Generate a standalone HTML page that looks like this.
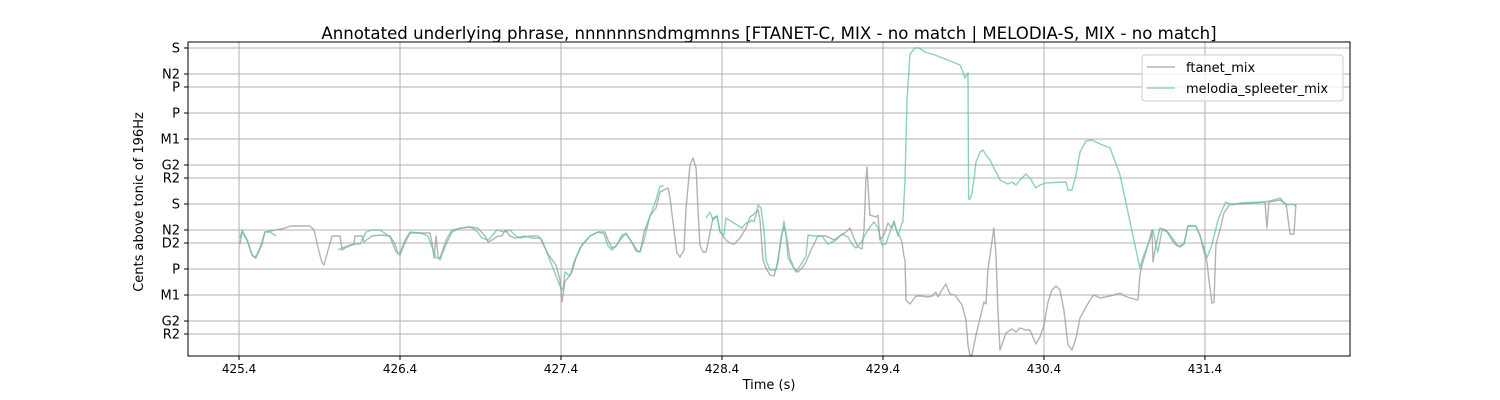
<!DOCTYPE html>
<html><head><meta charset="utf-8">
<style>
html,body{margin:0;padding:0;background:#fff;}
svg{display:block;font-family:"DejaVu Sans","Liberation Sans",sans-serif;}
</style></head>
<body>
<svg id="chart" width="1500" height="400" viewBox="0 0 1500 400" xmlns="http://www.w3.org/2000/svg">
<rect x="0" y="0" width="1500" height="400" fill="#fff"/>
<text x="769" y="39" text-anchor="middle" font-size="16.6" fill="#000">Annotated underlying phrase, nnnnnnsndmgmnns [FTANET-C, MIX - no match | MELODIA-S, MIX - no match]</text>
<g id="grid"></g>
<g id="series"></g>
<rect x="188" y="42" width="1162" height="314" fill="none" stroke="#000" stroke-width="1"/>
<g id="ticks"></g>
<text x="769" y="389" text-anchor="middle" font-size="13">Time (s)</text>
<text transform="translate(143,202) rotate(-90)" text-anchor="middle" font-size="13">Cents above tonic of 196Hz</text>
<g>
<rect x="1142" y="55" width="201" height="46" rx="3" fill="#fff" fill-opacity="0.8" stroke="#ccc"/>
<line x1="1147" y1="67" x2="1175" y2="67" stroke="#999" stroke-opacity="0.7" stroke-width="1.5"/>
<text x="1186" y="72" font-size="13">ftanet_mix</text>
<line x1="1147" y1="88" x2="1175" y2="88" stroke="#66c2a5" stroke-opacity="0.7" stroke-width="1.5"/>
<text x="1186" y="93" font-size="13">melodia_spleeter_mix</text>
</g>
</svg>
<script>
const xTicks = [425.4, 426.4, 427.4, 428.4, 429.4, 430.4, 431.4];
const yTickValues = [1200, 1000, 900, 700, 500, 300, 200, 0, -200, -300, -500, -700, -900, -1000];
const yTickLabels = ["S", "N2", "P", "P", "M1", "G2", "R2", "S", "N2", "D2", "P", "M1", "G2", "R2"];

const ftanetTime = [425.406,425.419,425.450,425.481,425.499,425.530,425.561,425.593,425.686,425.717,425.841,425.866,425.891,425.916,425.928,425.953,425.978,426.027,426.040,426.058,426.114,426.120,426.164,426.176,426.226,426.288,426.338,426.369,426.388,426.400,426.425,426.462,426.512,426.586,426.599,426.611,426.624,426.636,426.648,426.686,426.723,426.773,426.835,426.884,426.928,426.947,426.971,427.009,427.034,427.052,427.083,427.114,427.176,427.220,427.270,427.319,427.369,427.394,427.406,427.425,427.443,427.468,427.493,427.530,427.580,427.630,427.673,427.692,427.717,427.742,427.767,427.804,427.841,427.866,427.891,427.916,427.953,427.990,428.015,428.040,428.065,428.077,428.102,428.120,428.139,428.164,428.176,428.201,428.220,428.239,428.251,428.263,428.282,428.301,428.325,428.344,428.369,428.388,428.425,428.450,428.474,428.512,428.549,428.574,428.599,428.624,428.636,428.655,428.673,428.698,428.723,428.748,428.766,428.785,428.798,428.822,428.847,428.872,428.897,428.922,428.947,428.996,429.046,429.096,429.133,429.170,429.195,429.220,429.245,429.270,429.282,429.294,429.301,429.307,429.319,429.357,429.369,429.381,429.406,429.431,429.456,429.468,429.487,429.506,429.518,429.530,429.537,429.543,429.568,429.605,429.642,429.680,429.704,429.729,429.742,429.766,429.791,429.816,429.847,429.891,429.916,429.928,429.940,429.953,429.978,430.003,430.027,430.040,430.052,430.089,430.102,430.114,430.127,430.139,430.164,430.201,430.226,430.251,430.288,430.313,430.350,430.375,430.400,430.425,430.450,430.475,430.499,430.524,430.549,430.574,430.599,430.624,430.686,430.711,430.748,430.810,430.872,430.903,430.934,430.984,430.996,431.009,431.046,431.071,431.077,431.089,431.120,431.158,431.195,431.220,431.245,431.270,431.294,431.344,431.369,431.388,431.412,431.425,431.443,431.456,431.468,431.493,431.518,431.555,431.617,431.773,431.785,431.797,431.866,431.904,431.929,431.953,431.965];
const ftanetCents = [-308,-215,-277,-392,-415,-338,-215,-208,-185,-169,-169,-200,-338,-454,-469,-354,-246,-246,-354,-338,-308,-246,-246,-292,-246,-238,-246,-308,-385,-392,-315,-223,-223,-223,-300,-415,-246,-400,-431,-308,-215,-185,-177,-185,-246,-292,-277,-246,-246,-200,-246,-262,-246,-262,-262,-385,-469,-585,-754,-592,-569,-523,-415,-315,-246,-215,-215,-277,-338,-323,-277,-223,-300,-362,-369,-215,-92,-31,92,108,123,46,-200,-377,-408,-354,-46,300,354,277,-46,-315,-369,-369,-223,-108,-92,-215,-277,-300,-308,-262,-185,-100,-77,-46,-123,-431,-492,-546,-554,-446,-262,-177,-231,-415,-492,-523,-492,-446,-369,-246,-246,-277,-246,-215,-185,-262,-331,-346,-200,185,285,146,-85,-100,-85,-277,-238,-146,-185,-138,-215,-254,-292,-400,-431,-738,-769,-708,-708,-715,-708,-677,-715,-661,-615,-692,-700,-777,-892,-1084,-1161,-1161,-1007,-877,-754,-769,-508,-185,-392,-815,-1123,-1084,-992,-961,-985,-954,-969,-969,-1077,-1023,-931,-754,-661,-631,-661,-815,-1084,-1123,-1031,-877,-738,-700,-723,-708,-685,-708,-723,-738,-546,-469,-315,-200,-446,-354,-185,-200,-277,-315,-331,-308,-169,-169,-238,-338,-446,-585,-762,-754,-315,-200,-69,0,0,15,-185,15,31,0,-231,-231,0];

const melodiaTime = [425.406,425.419,425.450,425.481,425.506,425.543,425.561,425.593,425.630,null,426.015,426.052,426.089,426.127,426.152,426.164,426.189,426.226,426.276,426.338,426.375,426.400,426.431,426.462,426.524,426.574,426.605,426.624,426.648,426.686,426.723,426.785,426.835,426.872,426.909,426.947,426.971,427.002,427.046,427.083,427.120,427.145,427.207,427.257,427.282,427.394,427.412,427.425,427.456,427.481,427.518,427.580,427.630,427.667,427.692,427.717,427.742,427.779,427.804,427.841,427.872,427.891,427.916,427.953,427.990,428.015,428.040,null,428.301,428.325,428.344,428.369,428.388,428.412,428.425,428.524,428.549,428.574,428.586,428.599,428.611,428.624,428.642,428.661,428.673,428.698,428.735,428.760,428.785,428.798,428.810,428.835,428.860,428.884,428.922,428.934,428.971,429.021,429.058,429.108,429.145,429.183,429.207,429.232,429.257,429.307,429.344,429.369,429.394,429.418,429.443,429.468,429.493,429.518,429.524,429.537,429.549,429.568,429.599,429.624,429.661,429.723,429.879,429.897,429.909,429.922,429.928,429.932,429.940,429.953,429.965,429.978,430.003,430.021,430.040,430.065,430.127,430.176,430.201,430.226,430.251,430.288,430.313,430.350,430.375,430.412,430.537,430.549,430.574,430.599,430.624,430.661,430.698,430.748,430.810,430.872,430.996,431.021,431.058,431.077,431.096,431.108,431.133,431.170,431.207,431.232,431.270,431.294,431.344,431.369,431.394,431.412,431.443,431.481,431.506,431.530,431.568,431.617,431.754,431.804,431.866,431.904,431.941,431.965];
const melodiaCents = [-262,-200,-277,-392,-415,-308,-215,-215,-246,null,-354,-331,-315,-308,-308,-277,-215,-200,-200,-254,-369,-377,-277,-215,-223,-246,-354,-415,-415,-277,-200,-185,-177,-200,-262,-277,-246,-200,-215,-200,-246,-262,-246,-246,-277,-631,-662,-523,-554,-446,-338,-246,-215,-231,-323,-354,-323,-238,-231,-292,-354,-369,-277,-92,31,138,138,null,-108,-62,-123,-92,-215,-238,-108,-185,-146,-138,-123,-138,-85,-8,-31,-200,-431,-508,-508,-338,-131,-246,-415,-469,-523,-477,-400,-238,-246,-246,-308,-277,-231,-254,-308,-338,-308,-200,-138,-185,-315,-308,-215,-131,-246,-146,-138,185,800,1154,1200,1200,1169,1146,1069,1015,969,1000,1008,38,38,85,185,323,400,415,377,338,185,154,169,146,185,231,200,123,146,162,169,108,108,223,400,485,492,462,431,223,-492,-392,-277,-200,-315,-369,-200,-215,-277,-323,-308,-169,-169,-246,-338,-415,-315,-123,-46,15,-8,8,15,23,46,-8,0,-15];

const X0 = 188, X1 = 1350, Y0 = 42, Y1 = 356;
const tMin = 425.083, tMax = 432.301, cMin = -1169, cMax = 1246;
function xScale(t){ return X0 + (t - tMin) / (tMax - tMin) * (X1 - X0); }
function yScale(c){ return Y1 - (c - cMin) / (cMax - cMin) * (Y1 - Y0); }
const NS = "http://www.w3.org/2000/svg";
const grid = document.getElementById('grid');
const ticks = document.getElementById('ticks');
const series = document.getElementById('series');
function mk(tag, attrs){ const e = document.createElementNS(NS, tag); for (const k in attrs) e.setAttribute(k, attrs[k]); return e; }

xTicks.forEach(function(t){
  const x = xScale(t);
  const g = mk('line', {x1:x, x2:x, y1:Y0, y2:Y1, stroke:'#b0b0b0', 'stroke-width':1});
  
  
  grid.appendChild(g);
  const tk = mk('line', {x1:x, x2:x, y1:Y1, y2:Y1+4, stroke:'#000', 'stroke-width':1});
  
  
  ticks.appendChild(tk);
  const lb = mk('text', {x:x, y:Y1+17, 'text-anchor':'middle', 'font-size':12});
  lb.textContent = t.toFixed(1);
  
  
  ticks.appendChild(lb);
});
yTickValues.forEach(function(c, i){
  const y = yScale(c);
  const g = mk('line', {x1:X0, x2:X1, y1:y, y2:y, stroke:'#b0b0b0', 'stroke-width':1});
  
  
  grid.appendChild(g);
  const tk = mk('line', {x1:X0-4, x2:X0, y1:y, y2:y, stroke:'#000', 'stroke-width':1});
  
  
  ticks.appendChild(tk);
  const lb = mk('text', {x:X0-8, y:y+4.5, 'text-anchor':'end', 'font-size':13});
  lb.textContent = yTickLabels[i];
  
  
  ticks.appendChild(lb);
});
function pathFor(ts, cs){
  let d = '', pen = false;
  for (let i = 0; i < ts.length; i++){
    if (ts[i] === null || cs[i] === null){ pen = false; continue; }
    d += (pen ? 'L' : 'M') + xScale(ts[i]).toFixed(1) + ' ' + yScale(cs[i]).toFixed(1);
    pen = true;
  }
  return d;
}
const p1 = mk('path', {d:pathFor(ftanetTime, ftanetCents), fill:'none', stroke:'#999', 'stroke-opacity':0.75, 'stroke-width':1.4, 'stroke-linejoin':'round'});


series.appendChild(p1);
const p2 = mk('path', {d:pathFor(melodiaTime, melodiaCents), fill:'none', stroke:'#66c2a5', 'stroke-opacity':0.75, 'stroke-width':1.4, 'stroke-linejoin':'round'});


series.appendChild(p2);
</script>
</body></html>
